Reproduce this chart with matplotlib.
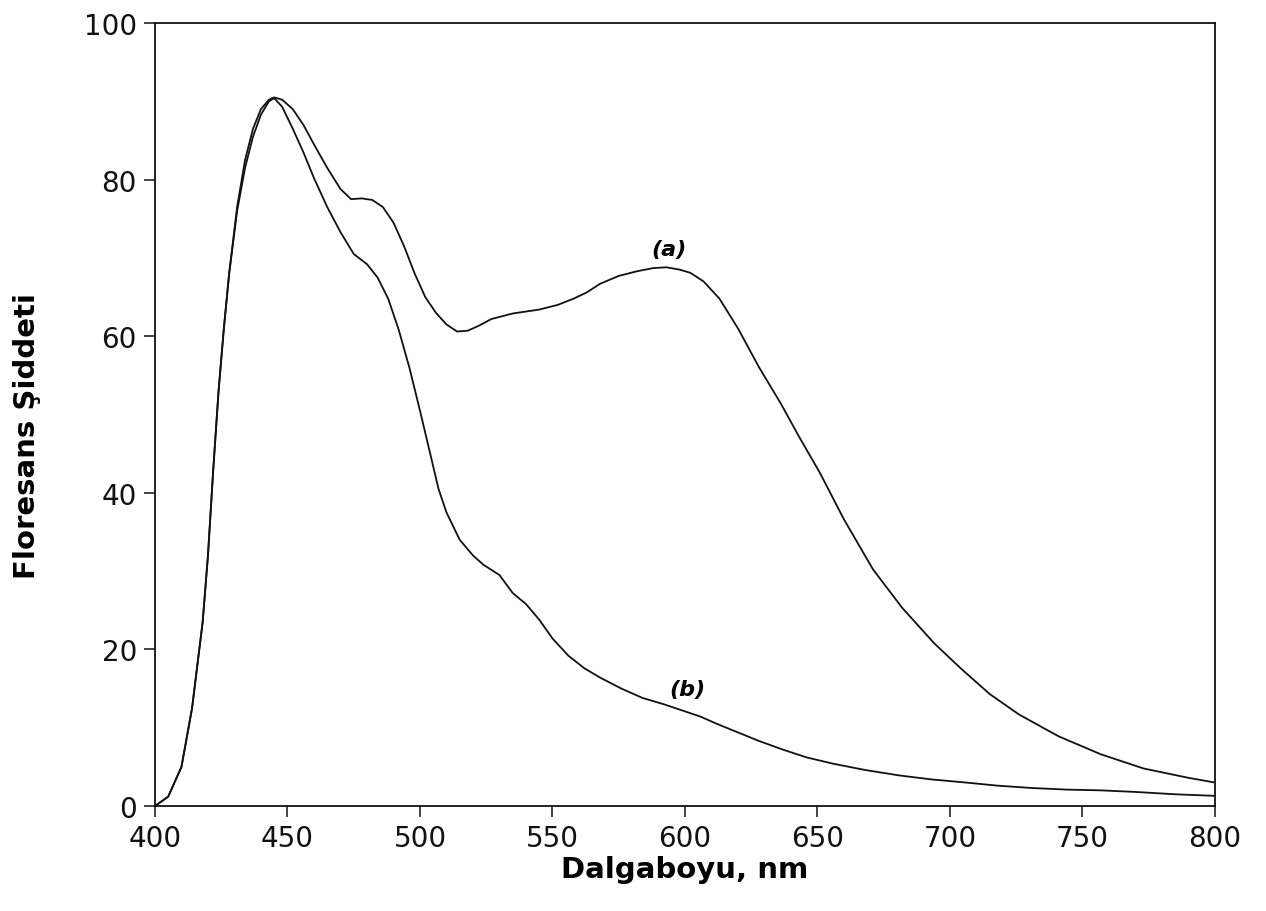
import matplotlib
matplotlib.use("Agg")
import matplotlib.pyplot as plt

# spectrum (a)
wl_a = [400, 405, 410, 414, 418, 420, 422, 424, 426, 428, 431, 434, 437, 440,
        443, 445, 448, 452, 456, 460, 465, 470, 474, 478, 482, 486, 490, 494,
        498, 502, 506, 510, 514, 518, 522, 527, 535, 545, 552, 558, 563, 568,
        575, 582, 588, 593, 598, 602, 607, 613, 620, 628, 636, 643, 651, 660,
        671, 682, 694, 704, 715, 726, 741, 757, 773, 790, 800]
int_a = [0, 1.2, 5, 12.5, 23.5, 32, 43, 53, 61, 68, 76.5, 82.5, 86.5, 89,
         90.2, 90.5, 90.2, 89, 87, 84.5, 81.5, 78.8, 77.5, 77.6, 77.4, 76.5, 74.5, 71.5,
         68, 65, 63, 61.5, 60.6, 60.7, 61.3, 62.2, 62.9, 63.4, 64, 64.8, 65.6, 66.7,
         67.7, 68.3, 68.7, 68.8, 68.5, 68.1, 67, 64.8, 61, 56, 51.5, 47.2, 42.5, 36.6,
         30.2, 25.3, 20.8, 17.6, 14.3, 11.7, 8.9, 6.6, 4.8, 3.6, 3.0]

# spectrum (b)
wl_b = [400, 405, 410, 414, 418, 420, 422, 424, 426, 428, 431, 434, 437, 440,
        443, 445, 448, 452, 456, 460, 465, 470, 475, 480, 484, 488, 492, 496,
        500, 504, 507, 510, 515, 520, 524, 530, 535, 540, 545, 550, 556, 562,
        568, 576, 584, 592, 599, 606, 612, 620, 628, 637, 646, 656, 668, 681,
        693, 706, 718, 731, 744, 757, 770, 785, 800]
int_b = [0, 1.2, 5, 12.5, 23.5, 32, 43, 53, 61, 68, 76, 81.5, 85.5, 88.3,
         90, 90.4, 89.3, 86.5, 83.5, 80.2, 76.5, 73.3, 70.5, 69.2, 67.5, 64.8, 60.8, 56,
         50.5, 44.8, 40.5, 37.5, 34, 32, 30.8, 29.5, 27.2, 25.8, 23.8, 21.4, 19.2, 17.6,
         16.4, 15, 13.8, 13, 12.2, 11.4, 10.5, 9.4, 8.3, 7.2, 6.2, 5.4, 4.6, 3.9,
         3.4, 3.0, 2.6, 2.3, 2.1, 2.0, 1.8, 1.5, 1.3]

x_ticks = [400, 450, 500, 550, 600, 650, 700, 750, 800]
y_ticks = [0, 20, 40, 60, 80, 100]

fig = plt.figure(figsize=(12.66, 9.12), dpi=100)
ax = fig.add_axes([0.1224, 0.1151, 0.8373, 0.8586])

ax.plot(wl_a, int_a, color="#111111", lw=1.3)
ax.plot(wl_b, int_b, color="#111111", lw=1.3)

ax.text(594, 71.2, "(a)", fontsize=16, fontweight="bold", fontstyle="italic",
        ha="center", va="center")
ax.text(601, 14.9, "(b)", fontsize=16, fontweight="bold", fontstyle="italic",
        ha="center", va="center")

ax.set_xlim(400, 800)
ax.set_ylim(0, 100)
ax.set_xticks(x_ticks)
ax.set_yticks(y_ticks)
ax.tick_params(direction="out", length=8, width=1.1, labelsize=20, pad=5,
               colors="#111111")
for s in ax.spines.values():
    s.set_linewidth(1.3)
    s.set_color("#111111")

ax.set_xlabel("Dalgaboyu, nm", fontsize=21, fontweight="bold", labelpad=2)
fig.text(27 / 1266, 1 - 436 / 912, "Floresans Şiddeti", fontsize=21,
         fontweight="bold", rotation=90, ha="center", va="center")

fig.savefig("out.png", dpi=100)
